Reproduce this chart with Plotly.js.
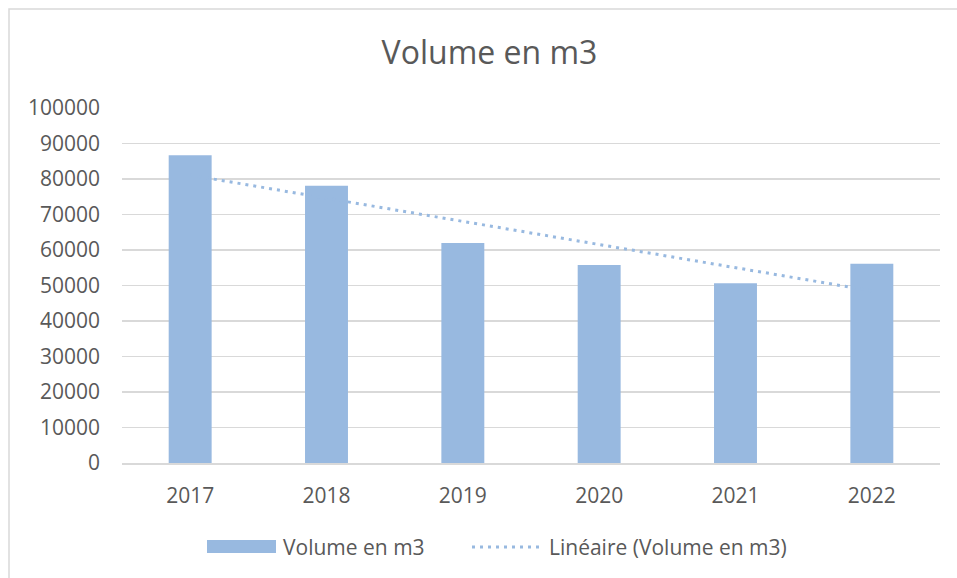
<!DOCTYPE html>
<html>
<head>
<meta charset="utf-8">
<script src="https://cdn.plot.ly/plotly-3.0.1.min.js"></script>
<style>html,body{margin:0;padding:0;background:#fff;}#chart{width:957px;height:578px;}</style>
</head>
<body>
<div id="chart"></div>
<script>
const years = ['2017', '2018', '2019', '2020', '2021', '2022'];
const volumes = [86700, 78100, 62000, 55800, 50600, 56100];
const trendYears = ['2017', '2022'];
const trendValues = [81100, 48500];
const yTicks = [0, 10000, 20000, 30000, 40000, 50000, 60000, 70000, 80000, 90000, 100000];
const seriesName = 'Volume en m3';
const trendName = 'Linéaire (Volume en m3)';

const barColor = '#98B9E0';
const textColor = '#595959';
const font = 'Open Sans, sans-serif';

const L = 122, R = 940, T = 108, B = 463;
const W = R - L, H = B - T;
const px = x => (x - L) / W;
const py = y => (B - y) / H;

const traces = [
  {type: 'scatter', mode: 'lines', x: trendYears, y: trendValues, name: trendName, line: {color: barColor, width: 3, dash: '3px,5px'}, showlegend: false},
  {type: 'bar', x: years, y: volumes, name: seriesName, marker: {color: barColor}, showlegend: false, hoverinfo: 'x+y'}
];

const layout = {
  width: 957, height: 578,
  margin: {l: L, r: 957 - R, t: T, b: 578 - B, pad: 0},
  paper_bgcolor: '#fff', plot_bgcolor: '#fff',
  font: {family: font, color: textColor, size: 21},
  title: {text: 'Volume en m3', font: {family: font, size: 32, color: textColor}, x: 489.5 / 957, xanchor: 'center', y: 1 - 53 / 578, yanchor: 'middle', xref: 'container', yref: 'container'},
  bargap: 0.685,
  showlegend: false,
  xaxis: {type: 'category', categoryorder: 'array', categoryarray: years, showgrid: false, zeroline: false, showline: true, linecolor: '#d9d9d9', linewidth: 1.5, ticks: '', tickfont: {family: font, size: 21, color: textColor}, ticklabelstandoff: 13},
  yaxis: {range: [0, 100000], tickvals: yTicks, ticktext: yTicks.map(String), showgrid: true, gridcolor: '#d9d9d9', gridwidth: 1.5, zeroline: false, showline: false, ticks: '', tickfont: {family: font, size: 21, color: textColor}, ticklabelstandoff: 21},
  shapes: [
    {type: 'rect', xref: 'paper', yref: 'paper', x0: px(9), x1: px(975), y0: py(600), y1: py(9), line: {color: '#d9d9d9', width: 1.5}, fillcolor: 'rgba(0,0,0,0)', layer: 'below'},
    {type: 'rect', xref: 'paper', yref: 'paper', x0: px(207), x1: px(276), y0: py(553), y1: py(540), line: {width: 0}, fillcolor: barColor},
    {type: 'line', xref: 'paper', yref: 'paper', x0: px(472), x1: px(542), y0: py(547), y1: py(547), line: {color: barColor, width: 3, dash: '3px,5px'}}
  ],
  annotations: [
    {xref: 'paper', yref: 'paper', x: px(281), y: py(547), xanchor: 'left', yanchor: 'middle', text: seriesName, showarrow: false, font: {family: font, size: 21, color: textColor}},
    {xref: 'paper', yref: 'paper', x: px(547), y: py(547), xanchor: 'left', yanchor: 'middle', text: trendName, showarrow: false, font: {family: font, size: 21, color: textColor}}
  ]
};

Plotly.newPlot('chart', traces, layout, {displayModeBar: false, staticPlot: true});
</script>
</body>
</html>
